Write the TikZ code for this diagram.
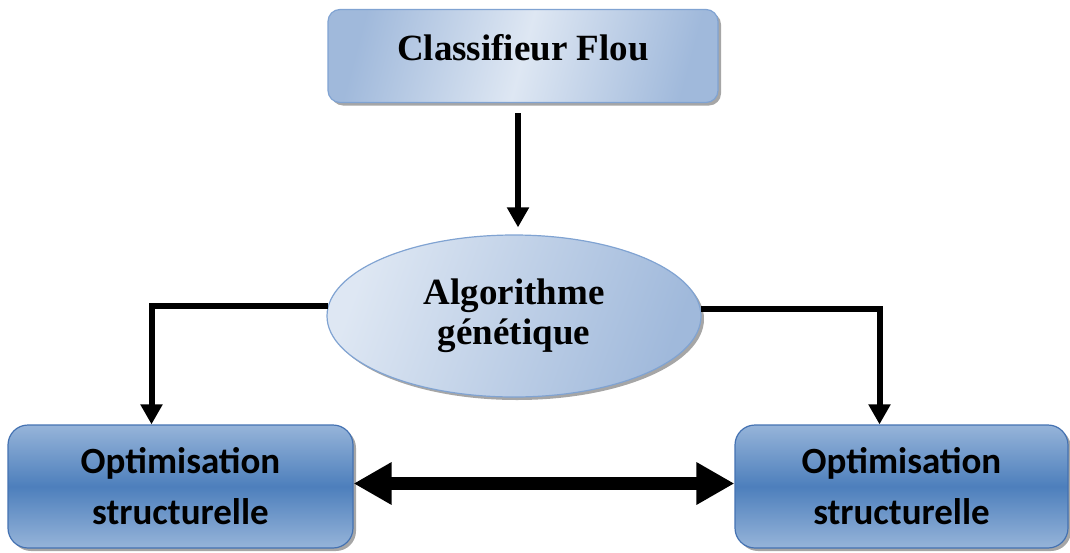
\documentclass[tikz,border=0pt]{standalone}
\usepackage{fontspec}
\usepackage{tikz}
\usetikzlibrary{arrows.meta,shapes.geometric,shadows}
\newfontfamily\timesbf{Liberation Serif}
\newfontfamily\calibribf{Carlito}

\begin{document}
\begin{tikzpicture}[x=1pt,y=-1pt]
\definecolor{clight}{RGB}{222,231,243}
\definecolor{cmid}{RGB}{160,185,219}
\definecolor{cedge}{RGB}{128,163,210}
\definecolor{cdeep}{RGB}{77,127,188}
\definecolor{cpale}{RGB}{150,180,217}
\definecolor{cline}{RGB}{68,114,178}
\tikzset{
  boxshadow/.style={drop shadow={shadow xshift=3pt,shadow yshift=-3pt,fill=black!50,opacity=0.7}},
  topbox/.style={rectangle,rounded corners=12pt,draw=cedge,line width=1.2pt,boxshadow,
    minimum width=390pt,minimum height=93pt,inner sep=0pt,
    left color=cmid,right color=cmid,middle color=clight,shading angle=75,
    text height=25pt,text depth=17pt,font=\timesbf\bfseries\fontsize{37}{40}\selectfont},
  algell/.style={ellipse,draw=cedge,line width=1.2pt,boxshadow,
    minimum width=374pt,minimum height=162pt,inner sep=0pt,align=center,
    left color=clight,right color=cmid,shading angle=70,
    font=\timesbf\bfseries\fontsize{37}{40}\selectfont},
  optbox/.style={rectangle,rounded corners=20pt,draw=cline,line width=1.2pt,boxshadow,
    minimum height=123pt,inner sep=0pt,align=center,
    top color=cpale,bottom color=cpale,middle color=cdeep,
    font=\calibribf\bfseries\fontsize{37}{51}\selectfont},
  conn/.style={line width=6pt,-{Triangle[width=21pt,length=20pt]}},
  bigarrow/.style={line width=13pt,{Triangle[width=40pt,length=38pt]}-{Triangle[width=40pt,length=38pt]}}
}
\useasboundingbox (0,0) rectangle (1070,552);
\node[topbox] (clf) at (523,56) {Classifieur Flou};
\node[algell] (alg) at (514,316) {Algorithme\\génétique};
\node[optbox,minimum width=345pt] (optl) at (180.5,486.5) {Optimisation\\structurelle};
\node[optbox,minimum width=333pt] (optr) at (901.5,486.5) {Optimisation\\structurelle};
\draw[conn] ([xshift=-5pt,yshift=-10pt]clf.south) -- ([xshift=4pt,yshift=7pt]alg.north);
\draw[conn] (alg.177) -| ([xshift=-29pt]optl.north);
\draw[conn] (alg.2) -| ([xshift=-22pt]optr.north);
\draw[bigarrow] ([yshift=3pt]optl.east) -- ([yshift=3pt]optr.west);
\end{tikzpicture}
\end{document}
